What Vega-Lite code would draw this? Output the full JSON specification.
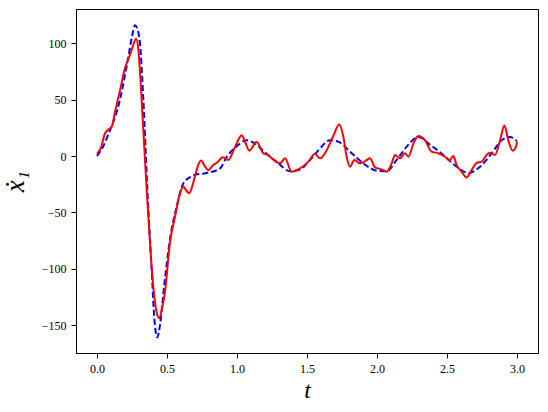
{
  "$schema": "https://vega.github.io/schema/vega-lite/v6.json",
  "width": 462,
  "height": 344,
  "autosize": {"type": "none"},
  "padding": {"left": 76, "top": 9, "right": 10, "bottom": 59},
  "background": "white",
  "config": {
    "view": {"stroke": "black", "strokeWidth": 1},
    "axis": {
      "grid": false,
      "domainColor": "black",
      "tickColor": "black",
      "tickSize": 5,
      "labelFont": "Liberation Serif",
      "labelFontSize": 12,
      "labelColor": "black",
      "titleFont": "Liberation Serif",
      "titleFontStyle": "italic",
      "titleFontWeight": "normal",
      "titleColor": "black",
      "titleFontSize": 24
    }
  },
  "datasets": {
    "ref": [
      {"t": 0, "v": 0}, {"t": 0.05, "v": 10}, {"t": 0.093, "v": 23}, {"t": 0.13, "v": 35},
      {"t": 0.164, "v": 50}, {"t": 0.2, "v": 72}, {"t": 0.224, "v": 88}, {"t": 0.25, "v": 106},
      {"t": 0.271, "v": 116}, {"t": 0.29, "v": 112}, {"t": 0.307, "v": 100}, {"t": 0.331, "v": 50},
      {"t": 0.36, "v": -30}, {"t": 0.39, "v": -100}, {"t": 0.41, "v": -145}, {"t": 0.43, "v": -161},
      {"t": 0.45, "v": -150}, {"t": 0.48, "v": -115}, {"t": 0.521, "v": -74}, {"t": 0.569, "v": -45},
      {"t": 0.617, "v": -24}, {"t": 0.65, "v": -20}, {"t": 0.688, "v": -17}, {"t": 0.783, "v": -15},
      {"t": 0.879, "v": -11}, {"t": 0.926, "v": -1}, {"t": 1.0, "v": 9}, {"t": 1.069, "v": 14},
      {"t": 1.14, "v": 10}, {"t": 1.21, "v": 2}, {"t": 1.283, "v": -5}, {"t": 1.379, "v": -13.5},
      {"t": 1.45, "v": -12}, {"t": 1.521, "v": -3.5}, {"t": 1.581, "v": 5}, {"t": 1.664, "v": 14},
      {"t": 1.724, "v": 12.7}, {"t": 1.807, "v": 4}, {"t": 1.902, "v": -6.5}, {"t": 1.998, "v": -13},
      {"t": 2.069, "v": -13.5}, {"t": 2.14, "v": -3.5}, {"t": 2.212, "v": 8.3}, {"t": 2.295, "v": 17},
      {"t": 2.379, "v": 10}, {"t": 2.474, "v": 1}, {"t": 2.569, "v": -9.5}, {"t": 2.652, "v": -15},
      {"t": 2.736, "v": -9.5}, {"t": 2.819, "v": 2.4}, {"t": 2.89, "v": 14}, {"t": 2.95, "v": 17},
      {"t": 3.0, "v": 13}
    ],
    "est": [
      {"t": 0, "v": 2}, {"t": 0.03, "v": 8}, {"t": 0.057, "v": 20}, {"t": 0.075, "v": 23},
      {"t": 0.105, "v": 26}, {"t": 0.13, "v": 40}, {"t": 0.164, "v": 58}, {"t": 0.2, "v": 78},
      {"t": 0.224, "v": 86}, {"t": 0.25, "v": 95}, {"t": 0.279, "v": 104}, {"t": 0.295, "v": 95},
      {"t": 0.319, "v": 50}, {"t": 0.343, "v": -4}, {"t": 0.36, "v": -40}, {"t": 0.38, "v": -80},
      {"t": 0.4, "v": -113}, {"t": 0.425, "v": -138}, {"t": 0.445, "v": -144}, {"t": 0.465, "v": -135},
      {"t": 0.486, "v": -120}, {"t": 0.521, "v": -77}, {"t": 0.557, "v": -54}, {"t": 0.593, "v": -33},
      {"t": 0.617, "v": -27}, {"t": 0.64, "v": -31}, {"t": 0.66, "v": -33}, {"t": 0.68, "v": -27},
      {"t": 0.7, "v": -18}, {"t": 0.72, "v": -9}, {"t": 0.743, "v": -4}, {"t": 0.77, "v": -9},
      {"t": 0.795, "v": -12.5}, {"t": 0.83, "v": -8}, {"t": 0.855, "v": -6}, {"t": 0.9, "v": -1},
      {"t": 0.938, "v": -3.5}, {"t": 0.986, "v": 8}, {"t": 1.033, "v": 18.5}, {"t": 1.06, "v": 12},
      {"t": 1.088, "v": 4.7}, {"t": 1.14, "v": 12.7}, {"t": 1.188, "v": 2.4}, {"t": 1.224, "v": 0.9},
      {"t": 1.248, "v": -2}, {"t": 1.307, "v": -6.5}, {"t": 1.343, "v": -2}, {"t": 1.39, "v": -14},
      {"t": 1.45, "v": -11}, {"t": 1.51, "v": -5}, {"t": 1.557, "v": 2}, {"t": 1.593, "v": -2},
      {"t": 1.64, "v": 5}, {"t": 1.69, "v": 18.6}, {"t": 1.73, "v": 28}, {"t": 1.76, "v": 17},
      {"t": 1.783, "v": -0.6}, {"t": 1.807, "v": -9.5}, {"t": 1.838, "v": -3.5}, {"t": 1.879, "v": -6.5},
      {"t": 1.91, "v": -5}, {"t": 1.95, "v": -2}, {"t": 1.986, "v": -10}, {"t": 2.033, "v": -11.8},
      {"t": 2.069, "v": -13.9}, {"t": 2.105, "v": -6.5}, {"t": 2.129, "v": 1}, {"t": 2.164, "v": -2},
      {"t": 2.2, "v": 2.4}, {"t": 2.224, "v": -0.6}, {"t": 2.26, "v": 11}, {"t": 2.295, "v": 17.7},
      {"t": 2.343, "v": 14}, {"t": 2.39, "v": 4}, {"t": 2.438, "v": 2.4}, {"t": 2.486, "v": -0.6},
      {"t": 2.517, "v": -4}, {"t": 2.545, "v": 0}, {"t": 2.569, "v": -8}, {"t": 2.605, "v": -14},
      {"t": 2.64, "v": -19}, {"t": 2.676, "v": -12.4}, {"t": 2.712, "v": -6}, {"t": 2.748, "v": -5},
      {"t": 2.783, "v": 1}, {"t": 2.807, "v": 3}, {"t": 2.843, "v": 1}, {"t": 2.879, "v": 14},
      {"t": 2.91, "v": 27}, {"t": 2.938, "v": 14}, {"t": 2.969, "v": 4.7}, {"t": 2.993, "v": 8.3},
      {"t": 3.0, "v": 12.7}
    ]
  },
  "encoding": {
    "x": {
      "field": "t", "type": "quantitative",
      "scale": {"domain": [-0.15, 3.15], "nice": false, "zero": false},
      "axis": {"values": [0, 0.5, 1, 1.5, 2, 2.5, 3], "format": ".1f", "title": "t", "labelPadding": 5, "titlePadding": 4}
    },
    "y": {
      "field": "v", "type": "quantitative",
      "scale": {"domain": [-174.8, 130.5], "nice": false, "zero": false},
      "axis": {"values": [-150, -100, -50, 0, 50, 100], "title": "ẋ₁", "titleFontSize": 27, "labelPadding": 5, "titlePadding": 12}
    }
  },
  "layer": [
    {
      "data": {"name": "ref"},
      "mark": {"type": "line", "color": "blue", "strokeWidth": 2, "strokeDash": [6, 3], "interpolate": "monotone"}
    },
    {
      "data": {"name": "est"},
      "mark": {"type": "line", "color": "red", "strokeWidth": 2, "interpolate": "monotone"}
    }
  ]
}
